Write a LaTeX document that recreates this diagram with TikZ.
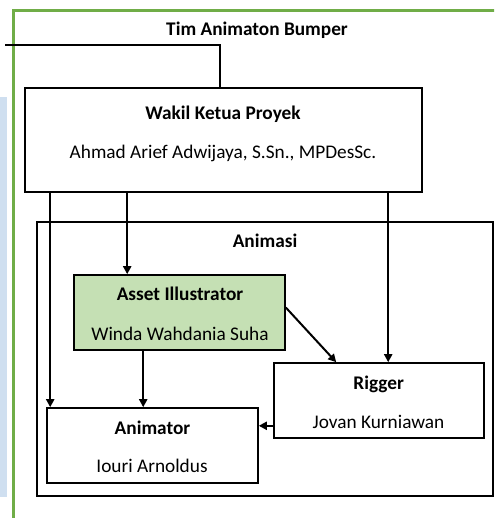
\documentclass[tikz,border=0pt]{standalone}
\usepackage{fontspec}
\setmainfont{Carlito}
\usetikzlibrary{arrows.meta}
\definecolor{frameGreen}{RGB}{112,173,71}
\definecolor{assetGreen}{RGB}{197,224,180}
\definecolor{stripBlue}{RGB}{207,223,240}

\begin{document}
\begin{tikzpicture}[x=1pt,y=-1pt]
\tikzstyle{box}=[draw, line width=1.6pt, inner sep=0pt]
\tikzstyle{roleText}=[font=\fontsize{19.3}{22}\selectfont\bfseries, anchor=base, inner sep=0pt]
\tikzstyle{personText}=[font=\fontsize{19.3}{22}\selectfont, anchor=base, inner sep=0pt]
\tikzstyle{arr}=[line width=2pt, -{Triangle[length=8pt,width=8pt]}]
\useasboundingbox (0,0) rectangle (494,518);
\clip (0,0) rectangle (494,518);

% strip and frame
\fill[stripBlue] (0,97) rectangle (7,497);
\draw[frameGreen, line width=3.2pt] (13.5,530) -- (13.5,10.5) -- (500,10.5);

\node[roleText] (team) at (257,36) {Tim Animaton Bumper};

\node[box, minimum width=397pt, minimum height=104pt] (wakil) at (223.5,140) {};
\node[roleText] (wakilRole) at (223,119.3) {Wakil Ketua Proyek};
\node[personText] (wakilName) at (223,158.7) {Ahmad Arief Adwijaya, S.Sn., MPDesSc.};

\node[box, minimum width=456pt, minimum height=274pt] (animasi) at (265,359) {};
\node[roleText] (animasiLabel) at (265,247.7) {Animasi};

\node[box, fill=assetGreen, minimum width=211pt, minimum height=75pt] (asset) at (179.5,312.5) {};
\node[roleText] (assetRole) at (180,300.7) {Asset Illustrator};
\node[personText] (assetName) at (180,340) {Winda Wahdania Suha};

\node[box, minimum width=210pt, minimum height=75pt] (rigger) at (379,400.5) {};
\node[roleText] (riggerRole) at (378.7,389) {Rigger};
\node[personText] (riggerName) at (378.5,428.3) {Jovan Kurniawan};

\node[box, minimum width=211pt, minimum height=75pt] (animator) at (152.5,445.5) {};
\node[roleText] (animatorRole) at (152.5,434) {Animator};
\node[personText] (animatorName) at (152,472.7) {Iouri Arnoldus};

% connectors
\coordinate (teamLine) at (5,45);
\draw[line width=2pt] (teamLine) -| ([xshift=-3.5pt]wakil.north);
\draw[arr] ([xshift=26pt]wakil.south west) -- ([xshift=26pt]wakil.south west |- animator.north);
\draw[arr] ([xshift=103pt]wakil.south west) -- ([xshift=103pt]wakil.south west |- asset.north);
\draw[arr] ([xshift=364pt]wakil.south west) -- ([xshift=364pt]wakil.south west |- rigger.north);
\draw[arr] ([xshift=70pt]asset.south west) -- ([xshift=70pt]asset.south west |- animator.north);
\draw[arr] ([yshift=5pt]asset.east) -- ([xshift=63pt]rigger.north west);
\draw[arr] ([yshift=13pt]rigger.south west) -- ([yshift=13pt]rigger.south west -| animator.east);
\end{tikzpicture}
\end{document}
